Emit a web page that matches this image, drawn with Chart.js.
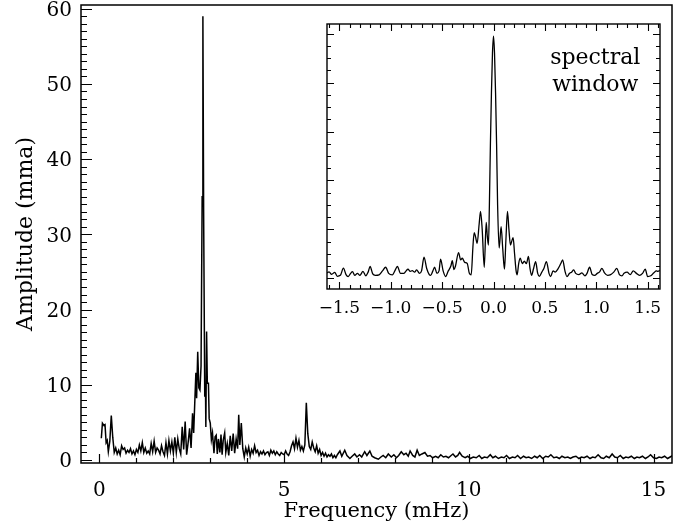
<!DOCTYPE html>
<html>
<head>
<meta charset="utf-8">
<script src="https://cdn.jsdelivr.net/npm/chart.js@4.4.1/dist/chart.umd.min.js"></script>
<style>
  html, body { margin: 0; padding: 0; background: #fff; }
  #wrap { position: relative; width: 690px; height: 527px; }
  #main { position: absolute; left: 0; top: 0; }
  #inset { position: absolute; left: 310px; top: 15px; }
</style>
</head>
<body>
<div id="wrap">
  <canvas id="main" width="690" height="527"></canvas>
  <canvas id="inset" width="370" height="310"></canvas>
</div>
<script>
/* Amplitude spectrum with spectral-window inset */

// ---- main amplitude spectrum (mHz, mma) ----
const FREQ = [
  0.05, 0.08, 0.12, 0.15, 0.18, 0.21, 0.24, 0.28, 0.32, 0.36,
  0.40, 0.44, 0.48, 0.52, 0.56, 0.60, 0.64, 0.68, 0.72, 0.76,
  0.80, 0.84, 0.88, 0.92, 0.96, 1.00, 1.04, 1.08, 1.12, 1.16,
  1.20, 1.24, 1.28, 1.32, 1.36, 1.40, 1.44, 1.48, 1.52, 1.56,
  1.60, 1.64, 1.68, 1.72, 1.76, 1.80, 1.84, 1.88, 1.92, 1.96,
  2.00, 2.04, 2.08, 2.12, 2.16, 2.20, 2.24, 2.28, 2.32, 2.36,
  2.40, 2.44, 2.48, 2.52, 2.55, 2.58, 2.61, 2.63, 2.66, 2.69,
  2.72, 2.75, 2.78, 2.80, 2.82, 2.85, 2.87, 2.88, 2.90, 2.92,
  2.95, 2.97, 3.00, 3.03, 3.06, 3.10, 3.13, 3.16, 3.19, 3.22,
  3.26, 3.29, 3.32, 3.35, 3.39, 3.42, 3.46, 3.50, 3.54, 3.58,
  3.62, 3.66, 3.70, 3.74, 3.77, 3.80, 3.84, 3.88, 3.92, 3.96,
  4.00, 4.04, 4.08, 4.12, 4.16, 4.20, 4.24, 4.28, 4.32, 4.36,
  4.40, 4.44, 4.48, 4.52, 4.56, 4.60, 4.64, 4.68, 4.72, 4.76,
  4.80, 4.84, 4.88, 4.92, 4.96, 5.00, 5.04, 5.08, 5.12, 5.16,
  5.20, 5.24, 5.28, 5.32, 5.36, 5.40, 5.44, 5.48, 5.52, 5.56,
  5.60, 5.64, 5.68, 5.72, 5.76, 5.80, 5.84, 5.88, 5.92, 5.96,
  6.00, 6.04, 6.08, 6.12, 6.16, 6.20, 6.24, 6.28, 6.32, 6.36,
  6.40, 6.44, 6.51, 6.56, 6.64, 6.70, 6.78, 6.84, 6.91, 6.97,
  7.04, 7.10, 7.18, 7.24, 7.32, 7.38, 7.45, 7.55, 7.62, 7.68,
  7.75, 7.82, 7.90, 7.97, 8.04, 8.10, 8.17, 8.24, 8.30, 8.36,
  8.41, 8.48, 8.54, 8.60, 8.66, 8.73, 8.81, 8.88, 8.95, 9.02,
  9.10, 9.17, 9.24, 9.31, 9.38, 9.45, 9.52, 9.57, 9.64, 9.70,
  9.75, 9.82, 9.90, 9.97, 10.04, 10.12, 10.20, 10.28, 10.35, 10.42,
  10.50, 10.58, 10.65, 10.72, 10.80, 10.88, 10.95, 11.02, 11.10, 11.18,
  11.25, 11.32, 11.40, 11.48, 11.55, 11.62, 11.70, 11.78, 11.85, 11.92,
  12.00, 12.08, 12.15, 12.22, 12.30, 12.38, 12.45, 12.52, 12.60, 12.68,
  12.75, 12.82, 12.90, 12.98, 13.05, 13.12, 13.20, 13.28, 13.35, 13.42,
  13.50, 13.58, 13.65, 13.72, 13.80, 13.88, 13.95, 14.02, 14.10, 14.18,
  14.25, 14.32, 14.40, 14.48, 14.55, 14.62, 14.70, 14.78, 14.85, 14.92,
  15.00, 15.08, 15.15, 15.22, 15.30, 15.38, 15.45, 15.52
];
const AMP = [
  2.9, 4.9, 4.6, 4.7, 2.3, 2.6, 1.1, 2.5, 5.9, 3.0,
  1.0, 1.6, 0.8, 1.3, 0.7, 1.9, 1.4, 1.6, 0.9, 1.3,
  1.0, 1.5, 0.8, 1.2, 0.7, 1.4, 1.0, 2.0, 1.2, 2.3,
  1.0, 1.6, 0.9, 1.2, 0.8, 2.2, 1.1, 2.5, 1.0, 1.6,
  1.3, 0.8, 1.9, 1.1, 0.6, 2.3, 0.8, 2.6, 1.2, 2.4,
  0.9, 3.0, 1.0, 2.8, 1.5, 0.8, 4.4, 1.4, 5.1, 0.7,
  2.3, 4.2, 1.6, 6.2, 3.6, 7.6, 11.6, 8.2, 14.4, 9.6,
  9.3, 12.5, 35.0, 59.0, 33.0, 8.4, 9.8, 4.4, 17.1, 10.2,
  10.2, 5.5, 4.9, 2.7, 3.6, 0.9, 3.1, 3.3, 0.8, 2.8,
  1.0, 3.4, 0.7, 2.6, 3.6, 1.0, 2.2, 0.6, 3.2, 1.2,
  3.5, 0.9, 2.8, 1.5, 6.0, 2.0, 4.9, 1.5, 0.4, 1.6,
  0.8, 1.7, 0.5, 1.4, 0.9, 1.9, 1.0, 1.3, 0.6, 1.1,
  0.8, 1.2, 0.7, 1.0, 1.1, 0.6, 1.3, 0.9, 1.2, 0.7,
  1.1, 0.8, 0.6, 1.0, 0.8, 0.7, 1.2, 0.8, 0.6, 1.1,
  1.9, 2.4, 1.5, 2.9, 1.7, 2.6, 1.3, 1.8, 1.2, 2.0,
  7.6, 3.5, 1.8, 1.4, 2.4, 1.6, 1.1, 1.9, 0.9, 1.4,
  0.6, 1.0, 0.5, 0.9, 0.4, 0.7, 0.5, 0.8, 0.3, 0.6,
  0.3, 0.7, 1.2, 0.5, 1.3, 0.6, 0.2, 0.5, 0.8, 0.4,
  0.7, 0.4, 1.1, 0.6, 1.2, 0.5, 0.3, 0.1, 0.4, 0.6,
  0.3, 0.8, 0.4, 0.7, 0.3, 0.6, 1.1, 0.7, 0.9, 0.5,
  1.2, 0.6, 0.4, 1.3, 0.6, 0.8, 1.0, 0.5, 0.6, 0.3,
  0.5, 0.3, 0.7, 0.4, 0.5, 0.3, 0.6, 0.8, 0.4, 0.6,
  1.0, 0.5, 0.3, 0.5, 0.2, 0.4, 0.3, 0.6, 0.2, 0.4,
  0.3, 0.7, 0.3, 0.5, 0.2, 0.4, 0.3, 0.6, 0.2, 0.4,
  0.3, 0.6, 0.2, 0.5, 0.3, 0.4, 0.2, 0.5, 0.3, 0.6,
  0.2, 0.5, 0.4, 0.7, 0.3, 0.4, 0.2, 0.5, 0.3, 0.4,
  0.2, 0.4, 0.5, 0.2, 0.4, 0.3, 0.5, 0.2, 0.4, 0.3,
  0.7, 0.3, 0.2, 0.5, 0.3, 0.8, 0.4, 0.3, 0.6, 0.2,
  0.4, 0.3, 0.5, 0.2, 0.4, 0.3, 0.5, 0.2, 0.4, 0.7,
  0.3, 0.2, 0.4, 0.3, 0.5, 0.2, 0.4, 0.6
];

// ---- spectral window (mHz offset, relative amplitude) ----
const WIN_FREQ = [
  -1.62, -1.60, -1.575, -1.545, -1.52, -1.49, -1.46, -1.435, -1.414, -1.39,
  -1.372, -1.35, -1.324, -1.30, -1.27, -1.243, -1.22, -1.201, -1.175, -1.15,
  -1.113, -1.08, -1.049, -1.02, -0.984, -0.96, -0.935, -0.905, -0.871, -0.85,
  -0.832, -0.81, -0.79, -0.768, -0.748, -0.72, -0.70, -0.676, -0.65, -0.625,
  -0.612, -0.59, -0.573, -0.55, -0.53, -0.515, -0.49, -0.466, -0.44, -0.415,
  -0.401, -0.385, -0.37, -0.34, -0.32, -0.304, -0.28, -0.256, -0.235, -0.217,
  -0.20, -0.188, -0.175, -0.159, -0.14, -0.126, -0.11, -0.09, -0.071, -0.06,
  -0.049, -0.04, -0.03, -0.02, -0.01, 0.0, 0.01, 0.02, 0.03, 0.04,
  0.055, 0.074, 0.09, 0.107, 0.12, 0.136, 0.15, 0.165, 0.18, 0.191,
  0.205, 0.22, 0.23, 0.245, 0.26, 0.28, 0.30, 0.32, 0.34, 0.355,
  0.37, 0.39, 0.41, 0.43, 0.447, 0.47, 0.49, 0.515, 0.54, 0.555,
  0.58, 0.60, 0.63, 0.655, 0.673, 0.695, 0.715, 0.74, 0.76, 0.78,
  0.80, 0.83, 0.86, 0.89, 0.91, 0.935, 0.96, 0.985, 1.01, 1.03,
  1.055, 1.08, 1.11, 1.14, 1.17, 1.20, 1.225, 1.25, 1.27, 1.30,
  1.33, 1.36, 1.39, 1.42, 1.45, 1.476, 1.50, 1.53, 1.56, 1.585,
  1.60, 1.62
];
const WIN_AMP = [
  0.022, 0.026, 0.016, 0.024, 0.008, 0.012, 0.041, 0.015, 0.007, 0.020,
  0.027, 0.012, 0.020, 0.012, 0.028, 0.010, 0.025, 0.048, 0.018, 0.012,
  0.014, 0.030, 0.045, 0.020, 0.014, 0.030, 0.048, 0.020, 0.020, 0.030,
  0.037, 0.028, 0.031, 0.025, 0.034, 0.020, 0.030, 0.086, 0.040, 0.015,
  0.012, 0.030, 0.045, 0.020, 0.030, 0.078, 0.030, 0.007, 0.030, 0.050,
  0.072, 0.035, 0.050, 0.105, 0.075, 0.082, 0.065, 0.061, 0.020, 0.014,
  0.130, 0.187, 0.170, 0.143, 0.220, 0.273, 0.200, 0.045, 0.228, 0.170,
  0.136, 0.300, 0.550, 0.760, 0.920, 0.990, 0.920, 0.760, 0.550, 0.300,
  0.123, 0.211, 0.120, 0.037, 0.150, 0.273, 0.200, 0.136, 0.155, 0.166,
  0.100, 0.030, 0.014, 0.060, 0.082, 0.060, 0.070, 0.060, 0.089, 0.040,
  0.012, 0.040, 0.068, 0.020, 0.008, 0.025, 0.040, 0.068, 0.020, 0.007,
  0.030, 0.025, 0.040, 0.060, 0.075, 0.030, 0.007, 0.020, 0.025, 0.034,
  0.020, 0.015, 0.022, 0.010, 0.020, 0.045, 0.015, 0.012, 0.020, 0.025,
  0.040, 0.022, 0.012, 0.015, 0.025, 0.040, 0.015, 0.010, 0.020, 0.025,
  0.015, 0.030, 0.020, 0.012, 0.020, 0.037, 0.007, 0.010, 0.022, 0.030,
  0.028, 0.032
];

// ---- ticks ----
const X_TICKS = [0, 5, 10, 15];
const Y_TICKS = [0, 10, 20, 30, 40, 50, 60];
const WIN_X_TICKS = [-1.5, -1.0, -0.5, 0.0, 0.5, 1.0, 1.5];
const WIN_Y_TICKS = [0, 0.2, 0.4, 0.6, 0.8, 1.0];
const WIN_LABEL = ["spectral", "window"];

const range = (a, b, step) => {
  const out = [];
  for (let i = 0; a + i * step <= b + 1e-9; i++) out.push(+(a + i * step).toFixed(4));
  return out;
};

const SERIF = "'DejaVu Serif', serif";
Chart.defaults.font.family = SERIF;
Chart.defaults.font.size = 20;
Chart.defaults.color = "#000";

/* inward IDL-style ticks plus frame, positioned through the chart's scales */
const inwardTicks = {
  id: "inwardTicks",
  afterDatasetsDraw(chart, args, o) {
    const { ctx, chartArea: a, scales: { x, y } } = chart;
    ctx.save();
    ctx.strokeStyle = "#000";
    ctx.lineWidth = o.frameWidth;
    ctx.strokeRect(a.left, a.top, a.right - a.left, a.bottom - a.top);
    ctx.lineWidth = o.tickWidth;
    ctx.beginPath();
    const xt = (vals, len) => vals.forEach(v => {
      const px = Math.round(x.getPixelForValue(v)) + 0.5;
      if (px < a.left || px > a.right) return;
      ctx.moveTo(px, a.bottom); ctx.lineTo(px, a.bottom - len);
      if (o.allSides) { ctx.moveTo(px, a.top); ctx.lineTo(px, a.top + len); }
    });
    const yt = (vals, len) => vals.forEach(v => {
      const py = Math.round(y.getPixelForValue(v)) + 0.5;
      if (py < a.top || py > a.bottom) return;
      ctx.moveTo(a.left, py); ctx.lineTo(a.left + len, py);
      if (o.allSides) { ctx.moveTo(a.right, py); ctx.lineTo(a.right - len, py); }
    });
    xt(o.xMinor, o.xMinorLen); xt(o.xMajor, o.xMajorLen);
    yt(o.yMinor, o.yMinorLen); yt(o.yMajor, o.yMajorLen);
    ctx.stroke();
    ctx.restore();
  }
};

const windowLabel = {
  id: "windowLabel",
  afterDraw(chart, args, o) {
    const { ctx, scales: { x, y } } = chart;
    ctx.save();
    ctx.font = "22px " + SERIF;
    ctx.fillStyle = "#000";
    ctx.textAlign = "center";
    ctx.textBaseline = "middle";
    o.lines.forEach((t, i) => ctx.fillText(t, x.getPixelForValue(o.x), y.getPixelForValue(o.y[i])));
    ctx.restore();
  }
};

function fixedTicks(values) {
  return scale => { scale.ticks = values.map(v => ({ value: v })); };
}

/* ---- main chart ---- */
new Chart(document.getElementById("main"), {
  type: "line",
  data: {
    datasets: [{
      data: FREQ.map((f, i) => ({ x: f, y: AMP[i] })),
      borderColor: "#000",
      borderWidth: 1.5,
      pointRadius: 0,
      tension: 0
    }]
  },
  options: {
    responsive: false,
    animation: false,
    events: [],
    layout: { padding: { top: 5, right: 18, left: 0, bottom: 0 } },
    plugins: {
      legend: { display: false },
      tooltip: { enabled: false },
      inwardTicks: {
        frameWidth: 1.5, tickWidth: 1.2, allSides: false,
        xMajor: X_TICKS, xMinor: range(0, 15, 1), xMajorLen: 9, xMinorLen: 5,
        yMajor: Y_TICKS, yMinor: range(0, 60, 1), yMajorLen: 11, yMinorLen: 6
      }
    },
    scales: {
      x: {
        type: "linear", min: -0.5, max: 15.5,
        grid: { display: false, drawTicks: false },
        border: { display: false },
        afterBuildTicks: fixedTicks(X_TICKS),
        ticks: { padding: 16, maxRotation: 0, autoSkip: false, callback: v => String(v) },
        title: { display: true, text: "Frequency (mHz)", font: { size: 21 }, padding: { top: 0, bottom: 3 } },
        afterFit: s => { s.height = 64; s.paddingLeft = 0; s.paddingRight = 0; }
      },
      y: {
        type: "linear", min: -0.4, max: 60.5,
        grid: { display: false, drawTicks: false },
        border: { display: false },
        afterBuildTicks: fixedTicks(Y_TICKS),
        ticks: { padding: 9, labelOffset: 2, autoSkip: false, callback: v => String(v) },
        title: { display: true, text: "Amplitude (mma)", font: { size: 22 }, padding: { top: 13, bottom: 0 } },
        afterFit: s => { s.width = 81; s.paddingTop = 0; s.paddingBottom = 0; }
      }
    }
  },
  plugins: [inwardTicks]
});

/* ---- spectral window inset ---- */
new Chart(document.getElementById("inset"), {
  type: "line",
  data: {
    datasets: [{
      data: WIN_FREQ.map((f, i) => ({ x: f, y: WIN_AMP[i] })),
      borderColor: "#000",
      borderWidth: 1.3,
      pointRadius: 0,
      cubicInterpolationMode: "monotone"
    }]
  },
  options: {
    responsive: false,
    animation: false,
    events: [],
    layout: { padding: { top: 9, right: 20, left: 0, bottom: 0 } },
    plugins: {
      legend: { display: false },
      tooltip: { enabled: false },
      inwardTicks: {
        frameWidth: 1.4, tickWidth: 1.1, allSides: true,
        xMajor: WIN_X_TICKS, xMinor: range(-1.6, 1.6, 0.1), xMajorLen: 7, xMinorLen: 4,
        yMajor: WIN_Y_TICKS, yMinor: range(0, 1, 0.05), yMajorLen: 7, yMinorLen: 4
      },
      windowLabel: { lines: WIN_LABEL, x: 0.99, y: [0.9, 0.79] }
    },
    scales: {
      x: {
        type: "linear", min: -1.62, max: 1.62,
        grid: { display: false, drawTicks: false },
        border: { display: false },
        afterBuildTicks: fixedTicks(WIN_X_TICKS),
        ticks: {
          padding: 9, maxRotation: 0, autoSkip: false, font: { size: 17 },
          callback: v => (v < 0 ? "\u2212" : "") + Math.abs(v).toFixed(1)
        },
        afterFit: s => { s.height = 36; s.paddingLeft = 0; s.paddingRight = 0; }
      },
      y: {
        type: "linear", min: -0.044, max: 1.04,
        grid: { display: false, drawTicks: false },
        border: { display: false },
        afterBuildTicks: fixedTicks(WIN_Y_TICKS),
        ticks: { display: false },
        afterFit: s => { s.width = 17; s.paddingTop = 0; s.paddingBottom = 0; }
      }
    }
  },
  plugins: [inwardTicks, windowLabel]
});
</script>
</body>
</html>
